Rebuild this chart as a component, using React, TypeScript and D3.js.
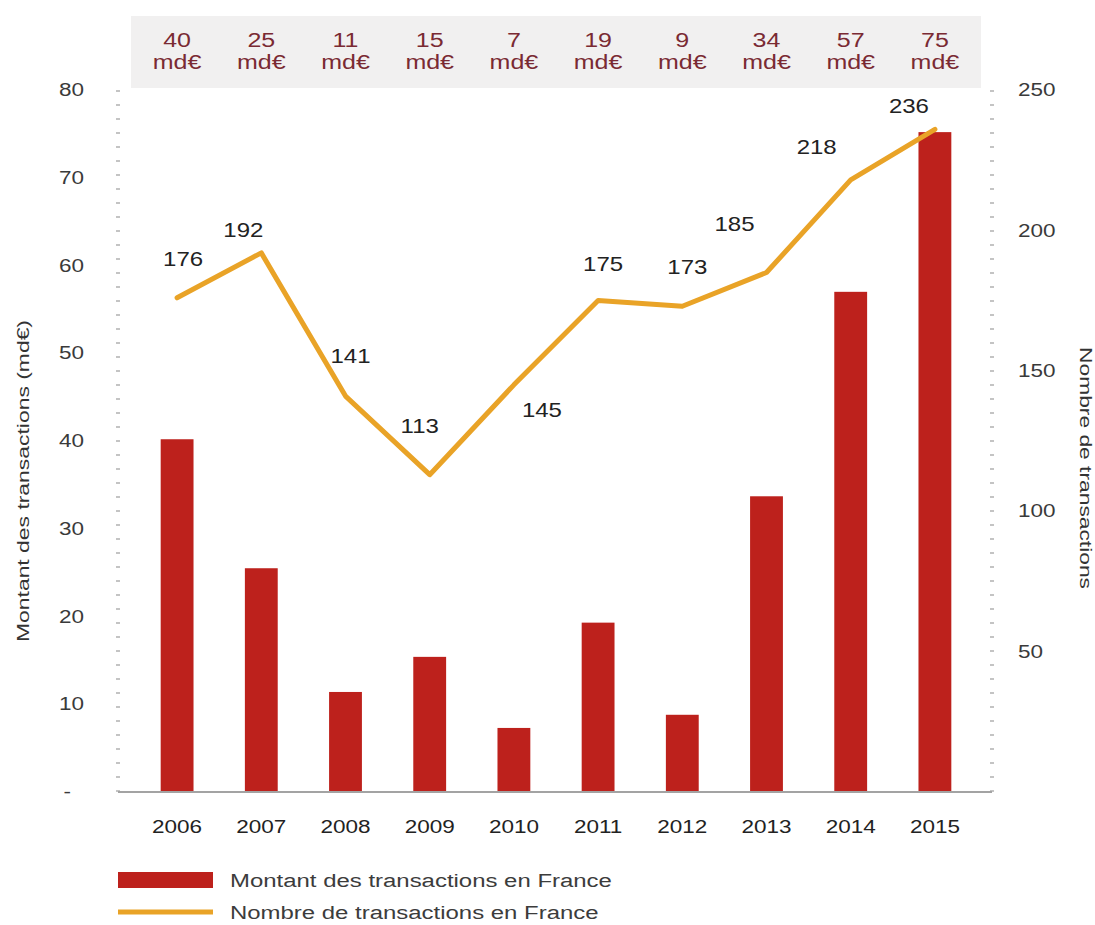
import React from 'react';
import * as d3 from 'd3';

const years = ['2006', '2007', '2008', '2009', '2010', '2011', '2012', '2013', '2014', '2015'];
const amounts = [40.2, 25.5, 11.4, 15.4, 7.3, 19.3, 8.8, 33.7, 57.0, 75.2];
const amountLabels = ['40', '25', '11', '15', '7', '19', '9', '34', '57', '75'];
const counts = [176, 192, 141, 113, 145, 175, 173, 185, 218, 236];
const leftTicks = [0, 10, 20, 30, 40, 50, 60, 70, 80];
const rightTicks = [50, 100, 150, 200, 250];
const seriesNames = ['Montant des transactions en France', 'Nombre de transactions en France'];
const leftTitle = 'Montant des transactions (md€)';
const rightTitle = 'Nombre de transactions';

// layout: label offsets relative to line points (dx, dy)
const labelOffsets: [number, number][] = [
  [6, -39], [-18, -23], [5, -40], [-10, -48], [28, 25],
  [5, -36], [5, -39], [-32, -48], [-34, -33], [-26, -23],
];

const W = 1095;
const H = 925;
const FONT = '"Liberation Sans", Arial, Helvetica, sans-serif';
const RED = '#bd211c';
const ORANGE = '#e9a327';
const SX = 1.25;

const yTop = 90;
const yBottom = 792;
const axisLeftX = 118;
const axisRightX = 992;

export default function App() {
  const x = d3.scaleBand<string>().domain(years).range([135, 977]).paddingInner(0.61).paddingOuter(0.305);
  const yL = d3.scaleLinear().domain([0, 80]).range([yBottom, yTop]);
  const yR = d3.scaleLinear().domain([0, 250]).range([yBottom, yTop]);
  const cx = (y: string) => (x(y) as number) + x.bandwidth() / 2;

  const line = d3.line<number>()
    .x((_, i) => cx(years[i]))
    .y((d) => yR(d));

  const T = (props: { x: number; y: number; anchor?: string; size: number; fill: string; sx?: number; children: React.ReactNode; weight?: string }) => (
    <text
      transform={`translate(${props.x},${props.y}) scale(${props.sx ?? SX},1)`}
      textAnchor={props.anchor ?? 'middle'}
      dominantBaseline="central"
      fontSize={props.size}
      fill={props.fill}
      fontFamily={FONT}
      fontWeight={props.weight ?? 'normal'}
    >
      {props.children}
    </text>
  );

  const r0 = x.range()[0];
  const r1 = x.range()[1];

  return (
    <svg width={W} height={H} style={{ position: 'absolute', left: 0, top: 0, background: '#fff' }}>
      {/* top band */}
      <rect x={r0 - 4} y={16} width={r1 - r0 + 8} height={72} fill="#f1f0f0" />
      {years.map((yr, i) => (
        <g key={'tb' + yr}>
          <T x={cx(yr)} y={40} size={20} fill="#7a2a33">{amountLabels[i]}</T>
          <T x={cx(yr)} y={62} size={20} fill="#7a2a33">md€</T>
        </g>
      ))}

      {/* dotted axes */}
      <line x1={axisLeftX} x2={axisLeftX} y1={yTop} y2={yBottom} stroke="#c4c4c4" strokeWidth={4} strokeDasharray="2 12" />
      <line x1={axisRightX} x2={axisRightX} y1={yTop} y2={yBottom} stroke="#c4c4c4" strokeWidth={4} strokeDasharray="2 12" />

      {/* left tick labels */}
      {leftTicks.map((t) => (
        <T key={'l' + t} x={t === 0 ? 71 : 84} y={yL(t)} anchor="end" size={18} fill="#3a3a3a">
          {t === 0 ? '-' : String(t)}
        </T>
      ))}
      {/* right tick labels */}
      {rightTicks.map((t) => (
        <T key={'r' + t} x={1018} y={yR(t)} anchor="start" size={18} fill="#3a3a3a">{String(t)}</T>
      ))}

      {/* bars */}
      {years.map((yr, i) => (
        <rect key={'b' + yr} x={x(yr)} y={yL(amounts[i])} width={x.bandwidth()} height={yBottom - yL(amounts[i])} fill={RED} />
      ))}

      {/* baseline */}
      <line x1={axisLeftX} x2={axisRightX} y1={yBottom} y2={yBottom} stroke="#a3a3a3" strokeWidth={2} />

      {/* line */}
      <path d={line(counts) ?? ''} fill="none" stroke={ORANGE} strokeWidth={5} strokeLinejoin="round" strokeLinecap="round" />

      {/* line labels */}
      {counts.map((c, i) => (
        <T key={'c' + i} x={cx(years[i]) + labelOffsets[i][0]} y={yR(c) + labelOffsets[i][1]} size={20} sx={1.2} fill="#222">
          {String(c)}
        </T>
      ))}

      {/* year labels */}
      {years.map((yr) => (
        <T key={'y' + yr} x={cx(yr)} y={827} size={18} fill="#222">{yr}</T>
      ))}

      {/* axis titles */}
      <text transform={`translate(23,481) rotate(-90)`} textAnchor="middle" dominantBaseline="central"
        fontSize={16} fill="#333" fontFamily={FONT} textLength={322} lengthAdjust="spacingAndGlyphs">{leftTitle}</text>
      <text transform={`translate(1085,468) rotate(90)`} textAnchor="middle" dominantBaseline="central"
        fontSize={16} fill="#333" fontFamily={FONT} textLength={242} lengthAdjust="spacingAndGlyphs">{rightTitle}</text>

      {/* legend */}
      <rect x={118} y={872} width={95} height={16} fill={RED} />
      <T x={230} y={880} anchor="start" size={19} sx={1.26} fill="#3c3c3c">{seriesNames[0]}</T>
      <line x1={118} x2={213} y1={912} y2={912} stroke={ORANGE} strokeWidth={5} />
      <T x={230} y={912} anchor="start" size={19} sx={1.26} fill="#3c3c3c">{seriesNames[1]}</T>
    </svg>
  );
}
